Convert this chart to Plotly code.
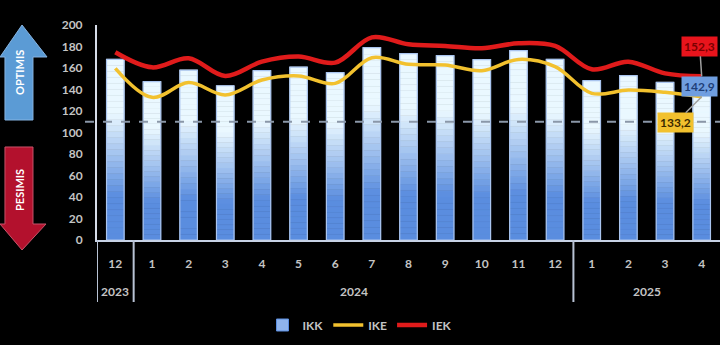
import plotly.graph_objects as go

# Periods (year group, month)
years = ["2023"] + ["2024"] * 12 + ["2025"] * 4
months = ["12", "1", "2", "3", "4", "5", "6", "7", "8", "9", "10", "11", "12", "1", "2", "3", "4"]

# Index values
ikk = [168.1, 147.3, 158.1, 143.5, 157.5, 160.9, 155.7, 178.9, 173.4, 171.5, 167.8, 176.1,
       168.1, 148.2, 152.9, 146.7, 142.9]
ike = [159.7, 132.7, 146.4, 134.9, 148.8, 152.6, 145.7, 169.6, 163.4, 162.8, 157.5, 168.0,
       161.3, 136.4, 139.5, 137.4, 133.2]
iek = [174.6, 160.6, 169.0, 152.6, 165.9, 170.6, 165.0, 188.5, 182.0, 180.5, 178.3, 183.0,
       180.5, 158.8, 165.9, 155.0, 152.3]
threshold = 110

W, H = 720, 345
PLOT_LEFT, PLOT_TOP, PLOT_BOTTOM = 97, 25, 240
FONT = "Lato"
GRAY = "#c4c4c4"

idx = list(range(len(months)))


def px_x(p):
    return p / W


def px_y(p):
    return (PLOT_BOTTOM - p) / (PLOT_BOTTOM - PLOT_TOP)


def mix(c0, c1, t):
    a = [int(c0[i:i + 2], 16) for i in (1, 3, 5)]
    b = [int(c1[i:i + 2], 16) for i in (1, 3, 5)]
    return "#" + "".join(f"{round(a[k] + (b[k] - a[k]) * t):02x}" for k in range(3))


fig = go.Figure()

# Bars drawn as stacked slices to give the vertical blue-to-white gradient
BLUE, PALE = "#5a8ddf", "#eaf8ff"
N = 30
BAR_W = 0.48
G0, G1 = 0.24, 0.70
for i in range(N):
    f0, f1 = i / N, (i + 1) / N
    fc = (f0 + f1) / 2
    t = min(1.0, max(0.0, (fc - G0) / (G1 - G0)))
    col = mix(BLUE, PALE, t)
    fig.add_trace(go.Bar(
        x=idx, y=[v * (f1 - f0) for v in ikk], base=[v * f0 for v in ikk],
        width=BAR_W, marker=dict(color=col, line=dict(color=col, width=0.6)),
        showlegend=False, hoverinfo="skip"))

# Bar outline
fig.add_trace(go.Bar(
    x=idx, y=ikk, width=BAR_W, name="IKK",
    marker=dict(color="rgba(0,0,0,0)", line=dict(color="#a9c4ee", width=1.2)),
    showlegend=False))
# Legend entry for the bars
fig.add_trace(go.Bar(
    x=[idx[0]], y=[None], name="IKK",
    marker=dict(color="#8fb4ec", line=dict(color="#5a8ddf", width=1)),
    showlegend=True))

fig.add_trace(go.Scatter(
    x=idx, y=ike, name="IKE", mode="lines",
    line=dict(color="#f2c12e", width=3.5, shape="spline", smoothing=1)))
fig.add_trace(go.Scatter(
    x=idx, y=iek, name="IEK", mode="lines",
    line=dict(color="#e01b1b", width=4.5, shape="spline", smoothing=1)))

last = idx[-1]


def fmt(v):
    return f"{v:.1f}".replace(".", ",")


annotations = [
    dict(x=last, y=iek[-1], xref="x", yref="y", text=fmt(iek[-1]),
         showarrow=True, arrowhead=0, arrowcolor="#a0a0a0", arrowwidth=1.5,
         ax=-2, ay=-30, bgcolor="#e8141c", borderpad=2,
         font=dict(family=FONT, size=12, color="#7a0000")),
    dict(x=last, y=ikk[-1], xref="x", yref="y", text=fmt(ikk[-1]),
         showarrow=False, xshift=-2, bgcolor="#6f9ee0", borderpad=2,
         font=dict(family=FONT, size=12, color="#1f3f78")),
    dict(x=last, y=ike[-1], xref="x", yref="y", text=fmt(ike[-1]),
         showarrow=True, arrowhead=0, arrowcolor="#a0a0a0", arrowwidth=1.5,
         ax=-26, ay=26, bgcolor="#f2c12e", borderpad=2,
         font=dict(family=FONT, size=12, color="#3a2a00")),
    dict(x=px_x(19), y=px_y(73), xref="paper", yref="paper", text="<b>OPTIMIS</b>",
         showarrow=False, textangle=-90, xanchor="center", yanchor="middle",
         font=dict(family=FONT, size=11, color="white")),
    dict(x=px_x(19), y=px_y(190), xref="paper", yref="paper", text="<b>PESIMIS</b>",
         showarrow=False, textangle=-90, xanchor="center", yanchor="middle",
         font=dict(family=FONT, size=11, color="white")),
]

# Year group labels under the month labels
groups = []
for i, yv in enumerate(years):
    if not groups or groups[-1][0] != yv:
        groups.append([yv, i, i])
    else:
        groups[-1][2] = i
for yv, a, b in groups:
    annotations.append(dict(
        x=(a + b) / 2, y=px_y(291), xref="x", yref="paper", text=yv,
        showarrow=False, yanchor="middle",
        font=dict(family=FONT, size=12, color=GRAY, weight="bold")))


def path(points):
    pts = [f"{px_x(a):.4f},{px_y(b):.4f}" for a, b in points]
    return "M " + " L ".join(pts) + " Z"


shapes = [
    # optimism arrow
    dict(type="path", xref="paper", yref="paper",
         path=path([(22, 25), (47, 57), (33, 57), (33, 120), (5, 120), (5, 57), (0, 57)]),
         fillcolor="#5b9bd5", line=dict(color="#86b4e2", width=1), layer="above"),
    # pessimism arrow
    dict(type="path", xref="paper", yref="paper",
         path=path([(5, 147), (33, 147), (33, 224), (46, 224), (22, 250), (0, 224), (5, 224)]),
         fillcolor="#b3112d", line=dict(color="#c9536a", width=1), layer="above"),
    # threshold line
    dict(type="line", xref="paper", yref="y", x0=px_x(85), x1=1, y0=threshold, y1=threshold,
         line=dict(color="#8a97a8", width=2, dash="dash"), layer="above"),
]
# Dividers between year groups
for yv, a, b in groups:
    shapes.append(dict(type="line", xref="x", yref="paper", x0=a - 0.5, x1=a - 0.5,
                       y0=0, y1=px_y(302), line=dict(color="#b8c2d4", width=2)))

fig.update_layout(
    width=W, height=H,
    paper_bgcolor="black", plot_bgcolor="black",
    margin=dict(l=0, r=0, t=PLOT_TOP, b=H - PLOT_BOTTOM),
    barmode="overlay",
    font=dict(family=FONT, size=12, color=GRAY, weight="bold"),
    xaxis=dict(
        domain=[px_x(PLOT_LEFT), 1], range=[-0.5, len(months) - 0.5],
        tickvals=idx, ticktext=months,
        showline=True, linecolor="#c8d3e6", linewidth=2,
        showgrid=False, ticks="", zeroline=False, ticklabelstandoff=12,
        tickfont=dict(family=FONT, size=12, color=GRAY, weight="bold"),
    ),
    yaxis=dict(
        range=[0, 200], dtick=20, showgrid=False, zeroline=False,
        showline=True, linecolor="#d6dce8", linewidth=2,
        ticks="", ticklabelstandoff=10,
        tickfont=dict(family=FONT, size=12, color=GRAY, weight="bold"),
    ),
    legend=dict(orientation="h", x=0.5, xanchor="center", y=px_y(325), yanchor="middle",
                font=dict(family=FONT, size=12, color=GRAY, weight="bold"),
                itemwidth=30, tracegroupgap=0, bgcolor="rgba(0,0,0,0)"),
    annotations=annotations,
    shapes=shapes,
)

fig.write_html("out.html")
